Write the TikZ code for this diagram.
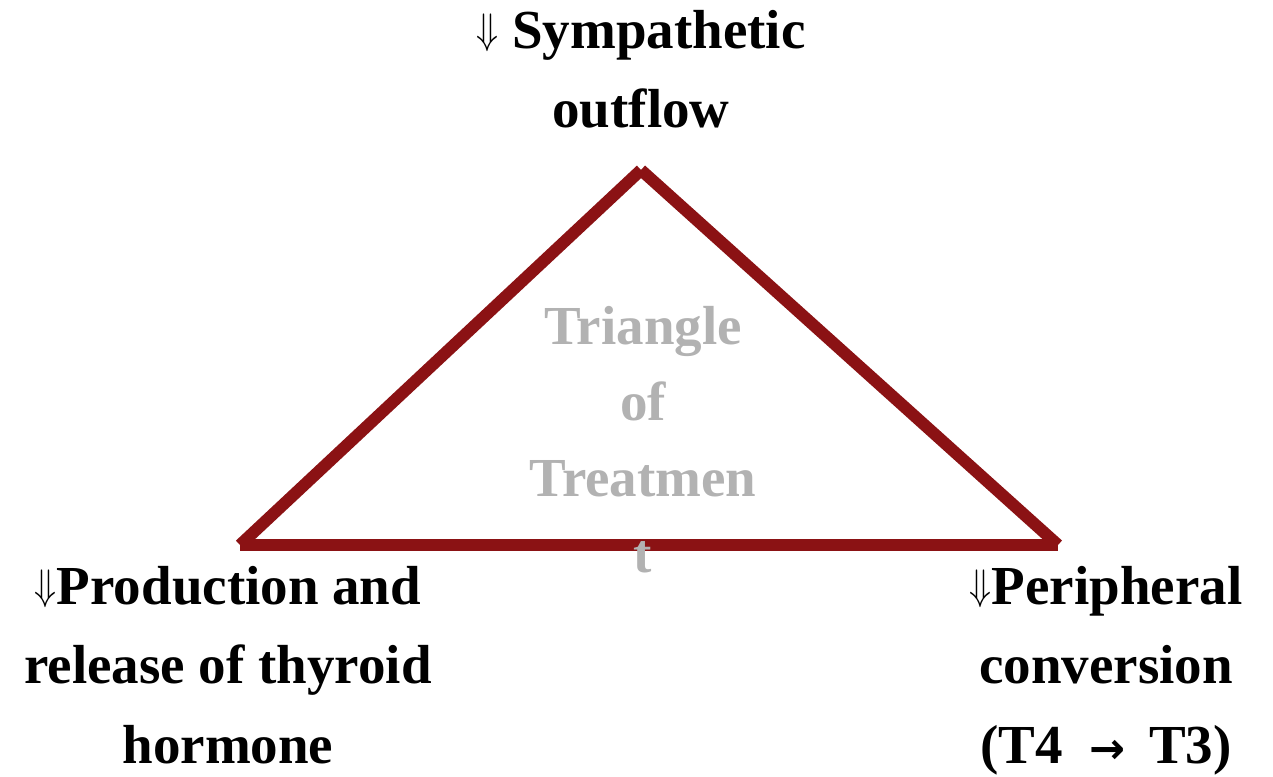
\documentclass[tikz,border=0pt]{standalone}
\usepackage{fontspec}
\setmainfont{Liberation Serif}
\newfontfamily\djv{DejaVu Sans}
\usepackage{graphicx}
\definecolor{tri}{HTML}{8B1214}
\definecolor{ghost}{HTML}{B2B2B2}
\newcommand{\dnarr}{\raisebox{5pt}{\resizebox*{22pt}{38pt}{$\Downarrow$}}}
\newcommand{\rtarr}{\resizebox{36pt}{!}{\djv\bfseries →}}
\begin{document}
\begin{tikzpicture}[x=1pt,y=1pt,
  lbl/.style={font=\fontsize{55}{79.5}\selectfont\bfseries, align=center, inner sep=0pt, anchor=base},
  ghosttext/.style={font=\fontsize{55}{76}\selectfont\bfseries, text=ghost, align=center, inner sep=0pt, anchor=base},
  edge/.style={draw=tri, line width=12pt, line cap=butt}]
\useasboundingbox (0,0) rectangle (1273,776);
\coordinate (A) at (641,606);
\coordinate (L) at (240,231);
\coordinate (R) at (1058,231);
\draw[edge] (L) -- (A);
\draw[edge] (A) -- (R);
\draw[edge] (L) -- (R);
\node[ghosttext] (center) at (643,203) {Triangle\\of\\Treatmen\\t};
\node[lbl] (top) at (641,648) {\dnarr\ Sympathetic\\outflow};
\node[lbl] (left) at (228,13) {\dnarr Production and\\release of thyroid\\hormone};
\node[lbl] (right) at (1106,13) {\dnarr Peripheral\\conversion\\(T4\hspace{26pt}\rtarr\hspace{24pt}T3)};
\end{tikzpicture}
\end{document}
